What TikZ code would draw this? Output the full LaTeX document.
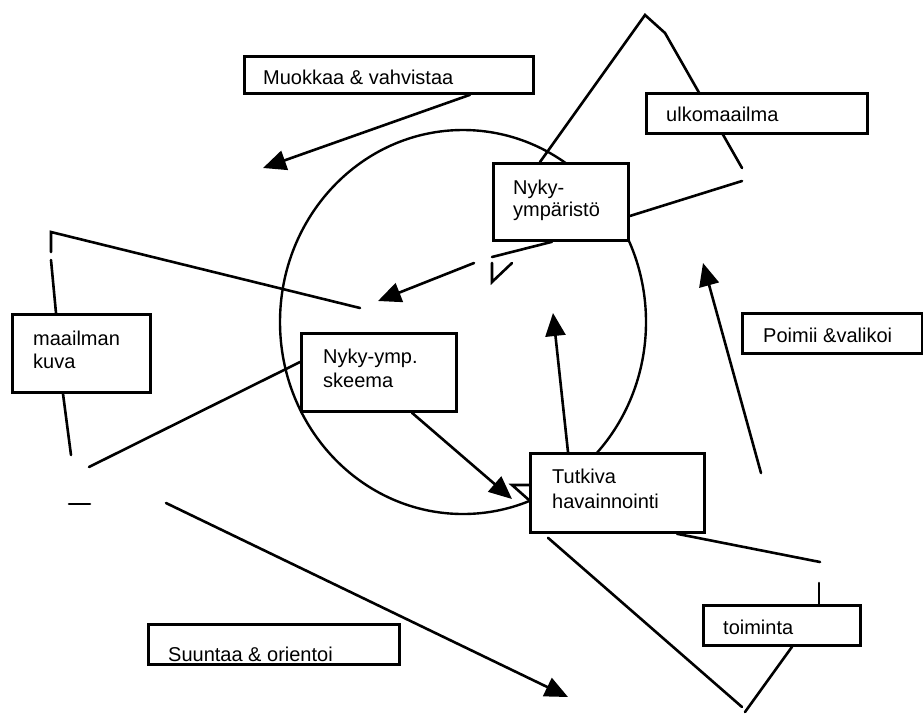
\documentclass[tikz,border=0pt]{standalone}
\usepackage{fontspec}
\setmainfont{Liberation Sans}
\usetikzlibrary{arrows.meta,calc}
\tikzset{
  box/.style={draw=black, line width=2.8pt, fill=white, rectangle, inner sep=0pt, anchor=north west},
  lbl/.style={inner sep=0pt, anchor=base west, font=\fontsize{20}{23}\selectfont},
  ln/.style={line width=2.6pt, line cap=round},
  arr/.style={ln, -{Triangle[length=23pt,width=20pt]}},
}
\begin{document}
\begin{tikzpicture}[x=1pt,y=-1pt]
\useasboundingbox (0,0) rectangle (923,713);
% circle
\draw[line width=2.4pt] (463,322) ellipse [x radius=183pt, y radius=192pt];
% free-end coordinates
\coordinate (apex) at (645,15);
\coordinate (apex2) at (665,33);
\coordinate (trR) at (742,168);
\coordinate (trR2) at (742,181);
\coordinate (muokTip) at (263,168);
\coordinate (pL1) at (360,308);
\coordinate (pL2) at (51,232);
\coordinate (pL3) at (51,252);
\coordinate (pL4) at (51,260);
\coordinate (kuvaEnd) at (71,455);
\coordinate (skEnd) at (89,467);
\coordinate (dashA) at (69,504);
\coordinate (dashB) at (90,504);
\coordinate (suStart) at (166,503);
\coordinate (suTip) at (568,697);
\coordinate (skTip) at (512,499);
\coordinate (triA) at (512,485);
\coordinate (tuTip) at (553,313);
\coordinate (toR1) at (820,562);
\coordinate (toR2) at (819,583);
\coordinate (toB) at (745,712);
\coordinate (tuB) at (742,707);
\coordinate (poStart) at (761,473);
\coordinate (poTip) at (703,263);
\coordinate (nyStart) at (474,263);
\coordinate (nyTip) at (378,301);
\coordinate (nyB) at (492,257);
\coordinate (vA) at (492,263);
\coordinate (vB) at (492,282);
\coordinate (vC) at (512,263);
% boxes
\node[box, minimum width=135pt, minimum height=77pt] (nyk) at (492,162) {};
% triangle behind ulkomaailma
\draw[ln] ([xshift=48pt]nyk.north west) -- (apex) -- (apex2) -- (trR);
\node[box, minimum width=289pt, minimum height=37pt] (muok) at (243,55) {};
\node[box, minimum width=221pt, minimum height=40pt] (ulko) at (645,92) {};
\node[box, minimum width=138pt, minimum height=78pt] (maail) at (11,313) {};
\node[box, minimum width=155pt, minimum height=78pt] (skee) at (300,332) {};
\node[box, minimum width=174pt, minimum height=79pt] (tutk) at (529,452) {};
\node[box, minimum width=180pt, minimum height=40pt] (poim) at (741,312) {};
\node[box, minimum width=157pt, minimum height=40pt] (toim) at (702,604) {};
\node[box, minimum width=251pt, minimum height=40pt] (suun) at (147,623) {};
% labels
\node[lbl] (tMuok) at (263,84) {Muokkaa \& vahvistaa};
\node[lbl] (tUlko) at (666,121) {ulkomaailma};
\node[lbl] (tNyk1) at (513,194) {Nyky-};
\node[lbl] (tNyk2) at (513,216) {ympäristö};
\node[lbl] (tMaa1) at (33,345) {maailman};
\node[lbl] (tMaa2) at (33,368) {kuva};
\node[lbl] (tSk1) at (323,363) {Nyky-ymp.};
\node[lbl] (tSk2) at (323,387) {skeema};
\node[lbl] (tTu1) at (552,483) {Tutkiva};
\node[lbl] (tTu2) at (552,508) {havainnointi};
\node[lbl] (tPo) at (763,342) {Poimii \&valikoi};
\node[lbl] (tTo) at (723,634) {toiminta};
\node[lbl] (tSu) at (168,661) {Suuntaa \& orientoi};
% connectors
\draw[arr] ([xshift=227pt]muok.south west) -- (muokTip);
\draw[ln] (pL1) -- (pL2) -- (pL3);
\draw[ln] (pL4) -- ([xshift=45pt]maail.north west);
\draw[ln] ([xshift=52pt]maail.south west) -- (kuvaEnd);
\draw[ln] ([yshift=-30pt]skee.north west) -- (skEnd);
\draw[ln] (dashA) -- (dashB);
\draw[arr] (suStart) -- (suTip);
\draw[arr] ([xshift=112pt]skee.south west) -- (skTip);
\draw[ln] ([yshift=-33pt]tutk.north west) -- (triA) -- ([yshift=-48pt]tutk.north west);
\draw[arr] ([xshift=39pt]tutk.north west) -- (tuTip);
\draw[ln] ([xshift=148pt]tutk.south west) -- (toR1);
\draw[ln] (toR2) -- ([xshift=117pt]toim.north west);
\draw[ln] ([xshift=90pt]toim.south west) -- (toB);
\draw[ln] ([xshift=19pt,yshift=-4pt]tutk.south west) -- (tuB);
\draw[arr] (poStart) -- (poTip);
\draw[arr] (nyStart) -- (nyTip);
\draw[ln] ([xshift=60pt]nyk.south west) -- (nyB);
\draw[ln] (vA) -- (vB) -- (vC);
\draw[ln] (trR2) -- ([yshift=-54pt]nyk.north east);
\end{tikzpicture}
\end{document}
